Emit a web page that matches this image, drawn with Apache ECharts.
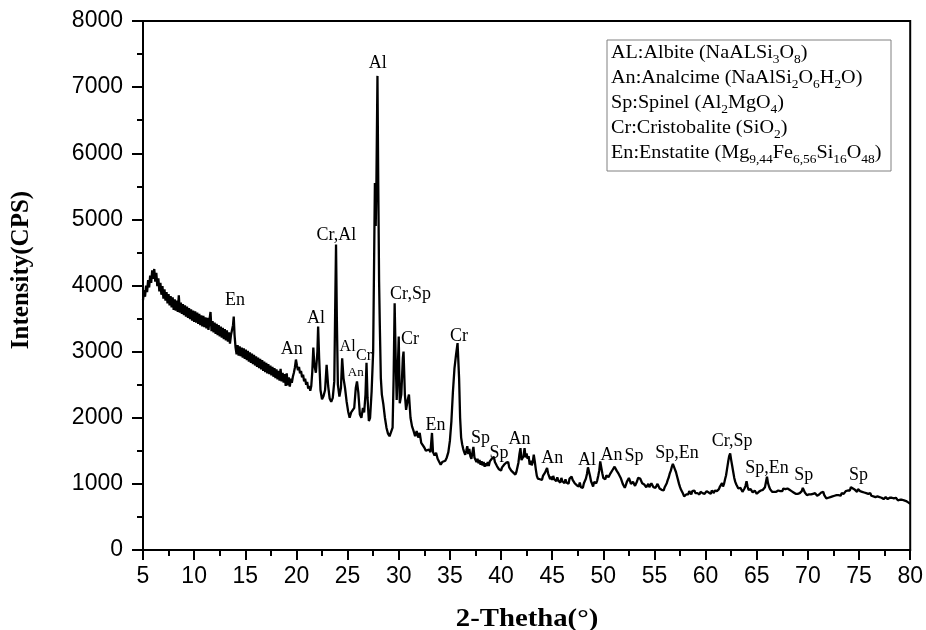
<!DOCTYPE html>
<html>
<head>
<meta charset="utf-8">
<title>XRD pattern</title>
<script src="https://cdn.jsdelivr.net/npm/echarts@6/dist/echarts.min.js"></script>
<style>
  html, body { margin: 0; padding: 0; background: #fff; }
  #chart { width: 926px; height: 630px; }
</style>
</head>
<body>
<div id="chart"></div>
<script>
// measured pattern: [2-theta (deg), intensity (CPS)]
const pattern = [
  [5.0,3780],[5.1,3930],[5.2,3830],[5.3,4000],[5.4,3900],[5.5,4080],[5.6,3970],[5.7,4150],[5.8,4040],[5.9,4230],
  [6.0,4100],[6.1,4250],[6.2,4060],[6.3,4190],[6.4,3990],[6.5,4110],[6.6,3910],[6.7,4040],[6.8,3860],[6.9,3990],
  [7.0,3800],[7.1,3940],[7.2,3770],[7.3,3900],[7.4,3730],[7.5,3870],[7.6,3700],[7.7,3840],[7.8,3670],[7.9,3820],
  [8.0,3630],[8.1,3790],[8.2,3620],[8.3,3770],[8.4,3600],[8.5,3850],[8.6,3590],[8.7,3740],[8.8,3570],[8.9,3720],
  [9.0,3550],[9.1,3700],[9.2,3530],[9.3,3680],[9.4,3510],[9.5,3660],[9.6,3490],[9.7,3640],[9.8,3470],[9.9,3620],
  [10.0,3450],[10.1,3610],[10.2,3440],[10.3,3590],[10.4,3420],[10.5,3570],[10.6,3400],[10.7,3550],[10.8,3380],[10.9,3540],
  [11.0,3370],[11.1,3520],[11.2,3350],[11.3,3510],[11.4,3330],[11.5,3480],[11.6,3600],[11.7,3310],[11.8,3460],[11.9,3290],
  [12.0,3440],[12.1,3270],[12.2,3420],[12.3,3250],[12.4,3400],[12.5,3230],[12.6,3380],[12.7,3210],[12.8,3360],[12.9,3190],
  [13.0,3340],[13.1,3170],[13.2,3320],[13.3,3150],[13.4,3290],[13.5,3120],[13.6,3250],[13.7,3230],[13.8,3400],[13.87,3530],
  [13.95,3250],[14.05,3060],[14.15,2960],[14.25,3100],[14.35,2940],[14.45,3080],[14.55,2930],[14.65,3060],[14.75,2910],[14.85,3050],
  [14.95,2890],[15.05,3030],[15.15,2870],[15.25,3010],[15.35,2850],[15.45,2990],[15.55,2830],[15.65,2970],[15.75,2810],[15.85,2950],
  [15.95,2790],[16.05,2930],[16.15,2770],[16.25,2910],[16.35,2750],[16.45,2890],[16.55,2730],[16.65,2870],[16.75,2710],[16.85,2850],
  [16.95,2690],[17.05,2830],[17.15,2670],[17.25,2810],[17.35,2660],[17.45,2790],[17.55,2640],[17.65,2770],[17.75,2620],[17.85,2750],
  [17.95,2600],[18.05,2730],[18.15,2580],[18.25,2710],[18.35,2560],[18.45,2740],[18.55,2550],[18.65,2680],[18.75,2530],[18.85,2660],
  [18.95,2480],[19.05,2670],[19.15,2490],[19.25,2610],[19.35,2470],[19.45,2590],[19.55,2530],[19.65,2620],[19.75,2680],[19.85,2760],
  [19.95,2880],[20.05,2790],[20.15,2720],[20.25,2770],[20.35,2670],[20.45,2710],[20.55,2610],[20.65,2650],[20.75,2550],[20.85,2590],
  [20.95,2500],[21.05,2540],[21.15,2440],[21.25,2480],[21.35,2410],[21.45,2480],[21.55,2700],[21.65,3060],[21.75,2800],[21.9,2680],
  [22.05,3000],[22.12,3380],[22.22,2900],[22.35,2420],[22.5,2280],[22.65,2330],[22.8,2420],[22.95,2800],[23.1,2480],[23.25,2290],
  [23.4,2240],[23.55,2300],[23.7,2550],[23.8,3800],[23.87,4620],[23.95,3500],[24.05,2500],[24.2,2320],[24.35,2450],[24.47,2900],
  [24.6,2600],[24.75,2450],[24.9,2250],[25.05,2100],[25.2,2000],[25.35,2080],[25.5,2050],[25.65,2150],[25.8,2450],[25.92,2550],
  [26.05,2380],[26.2,2050],[26.35,2000],[26.5,2150],[26.62,2080],[26.75,2350],[26.85,2830],[26.95,2300],[27.08,1950],[27.2,2000],
  [27.35,2400],[27.5,3000],[27.6,4500],[27.67,5550],[27.75,4900],[27.82,5600],[27.92,7170],[28.0,5500],[28.08,4060],[28.15,3400],
  [28.25,2600],[28.35,2350],[28.5,2200],[28.65,2000],[28.8,1850],[28.95,1760],[29.1,1720],[29.25,1690],[29.4,1850],[29.5,2600],
  [29.6,3730],[29.7,2900],[29.8,2270],[29.92,2800],[30.0,3230],[30.1,2220],[30.25,2350],[30.4,2900],[30.47,3000],[30.6,2350],
  [30.72,2120],[30.85,2250],[31.0,2350],[31.15,2000],[31.3,1870],[31.45,1800],[31.6,1720],[31.75,1800],[31.9,1700],[32.05,1770],
  [32.2,1620],[32.35,1600],[32.5,1550],[32.65,1500],[32.8,1470],[32.95,1520],[33.1,1480],[33.25,1770],[33.35,1480],[33.5,1430],
  [33.65,1470],[33.8,1380],[33.95,1350],[34.1,1290],[34.25,1330],[34.4,1300],[34.55,1350],[34.7,1400],[34.85,1480],[35.0,1650],
  [35.15,1950],[35.3,2400],[35.45,2750],[35.6,2950],[35.75,3130],[35.9,2600],[36.0,2000],[36.1,1700],[36.2,1600],[36.3,1530],
  [36.4,1480],[36.5,1440],[36.6,1500],[36.7,1570],[36.8,1450],[36.9,1530],[37.0,1420],[37.1,1380],[37.2,1470],[37.3,1560],
  [37.4,1400],[37.5,1390],[37.6,1330],[37.7,1380],[37.8,1310],[37.9,1360],[38.0,1290],[38.1,1340],[38.2,1280],[38.3,1330],
  [38.4,1260],[38.5,1310],[38.6,1270],[38.7,1330],[38.8,1270],[38.9,1340],[39.0,1310],[39.1,1380],[39.2,1360],[39.3,1410],
  [39.4,1330],[39.5,1350],[39.6,1270],[39.7,1280],[39.8,1220],[39.9,1250],[40.0,1200],[40.1,1250],[40.2,1220],[40.3,1290],
  [40.4,1260],[40.5,1320],[40.6,1290],[40.7,1330],[40.8,1250],[40.9,1270],[41.0,1200],[41.1,1230],[41.2,1170],[41.3,1190],
  [41.4,1140],[41.5,1180],[41.6,1210],[41.7,1320],[41.8,1450],[41.9,1540],[42.0,1360],[42.1,1330],[42.2,1420],[42.3,1540],
  [42.4,1400],[42.5,1460],[42.6,1380],[42.7,1420],[42.8,1290],[42.9,1350],[43.0,1280],[43.1,1330],[43.2,1440],[43.3,1340],
  [43.4,1220],[43.5,1120],[43.6,1080],[43.7,1110],[43.8,1070],[43.9,1100],[44.0,1060],[44.1,1120],[44.2,1090],[44.3,1170],
  [44.4,1150],[44.5,1240],[44.6,1160],[44.7,1130],[44.8,1070],[44.9,1110],[45.0,1060],[45.1,1120],[45.2,1070],[45.3,1090],
  [45.4,1040],[45.5,1100],[45.6,1050],[45.7,1070],[45.8,1020],[45.9,1090],[46.0,1040],[46.1,1060],[46.2,1010],[46.3,1070],
  [46.4,1020],[46.5,1050],[46.6,1000],[46.7,1080],[46.8,1060],[46.9,1110],[47.0,1060],[47.1,1070],[47.2,1010],[47.3,1040],
  [47.4,980],[47.5,1010],[47.6,960],[47.7,1020],[47.8,950],[47.9,980],[48.0,940],[48.1,1010],[48.2,990],[48.3,1080],
  [48.4,1150],[48.5,1250],[48.6,1230],[48.7,1120],[48.8,1040],[48.9,1000],[49.0,960],[49.1,1030],[49.2,1060],[49.3,1010],
  [49.4,1050],[49.5,1120],[49.6,1200],[49.7,1340],[49.8,1250],[49.9,1160],[50.0,1090],[50.1,1120],[50.2,1070],[50.3,1130],
  [50.4,1150],[50.5,1100],[50.6,1110],[50.7,1160],[50.8,1180],[50.9,1210],[51.0,1230],[51.1,1260],[51.2,1240],[51.3,1200],
  [51.4,1210],[51.5,1150],[51.6,1160],[51.7,1090],[51.8,1060],[51.9,1000],[52.0,970],[52.1,940],[52.2,980],[52.3,1030],
  [52.4,1060],[52.5,1090],[52.6,1050],[52.7,1000],[52.8,980],[52.9,1030],[53.0,1010],[53.1,970],[53.2,950],[53.3,1040],
  [53.4,1090],[53.5,1120],[53.6,1080],[53.7,1050],[53.8,1010],[53.9,1040],[54.0,990],[54.1,1010],[54.2,950],[54.3,980],
  [54.4,1000],[54.5,950],[54.6,960],[54.7,1010],[54.8,990],[54.9,950],[55.0,980],[55.1,940],[55.2,960],[55.3,1000],
  [55.4,970],[55.5,930],[55.6,950],[55.7,910],[55.8,930],[55.9,900],[56.0,950],[56.1,980],[56.2,1010],[56.3,1060],
  [56.4,1100],[56.5,1160],[56.6,1200],[56.7,1260],[56.8,1300],[56.9,1260],[57.0,1220],[57.1,1180],[57.2,1120],[57.3,1060],
  [57.4,1000],[57.5,950],[57.6,910],[57.7,880],[57.8,850],[57.9,810],[58.0,790],[58.1,840],[58.2,870],[58.3,840],
  [58.4,890],[58.5,860],[58.6,840],[58.7,890],[58.8,870],[58.9,900],[59.0,860],[59.1,890],[59.2,860],[59.3,880],
  [59.4,840],[59.5,880],[59.6,900],[59.7,860],[59.8,880],[59.9,850],[60.0,870],[60.1,890],[60.2,920],[60.3,870],
  [60.4,880],[60.5,850],[60.6,900],[60.7,880],[60.8,860],[60.9,900],[61.0,930],[61.1,890],[61.2,880],[61.3,920],
  [61.4,960],[61.5,940],[61.6,1010],[61.7,960],[61.8,1000],[61.9,1070],[62.0,1130],[62.1,1230],[62.2,1330],[62.3,1420],
  [62.4,1460],[62.5,1360],[62.6,1270],[62.7,1180],[62.8,1090],[62.9,1030],[63.0,990],[63.1,960],[63.2,930],[63.3,900],
  [63.4,940],[63.5,920],[63.6,880],[63.7,900],[63.8,930],[63.9,970],[64.0,1040],[64.1,960],[64.2,910],[64.3,880],
  [64.4,920],[64.5,890],[64.6,870],[64.7,860],[64.8,900],[64.9,870],[65.0,850],[65.1,870],[65.2,880],[65.3,860],
  [65.4,900],[65.5,880],[65.6,910],[65.7,890],[65.8,950],[65.9,1030],[66.0,1110],[66.1,1010],[66.2,960],[66.3,920],
  [66.4,890],[66.5,880],[66.6,900],[66.7,880],[66.8,860],[66.9,880],[67.0,860],[67.1,900],[67.2,880],[67.3,890],
  [67.4,910],[67.5,890],[67.6,930],[67.7,940],[67.8,920],[67.9,950],[68.0,930],[68.1,950],[68.2,910],[68.3,930],
  [68.4,890],[68.5,910],[68.6,870],[68.7,880],[68.8,850],[68.9,870],[69.0,850],[69.1,880],[69.2,860],[69.3,870],
  [69.4,890],[69.5,940],[69.6,930],[69.7,870],[69.8,850],[69.9,830],[70.0,860],[70.1,840],[70.2,820],[70.3,840],
  [70.4,820],[70.5,850],[70.6,830],[70.7,860],[70.8,840],[70.9,820],[71.0,850],[71.1,840],[71.2,860],[71.3,870],
  [71.4,900],[71.5,880],[71.6,830],[71.7,800],[71.8,780],[71.9,810],[72.0,790],[72.1,770],[72.2,800],[72.3,780],
  [72.4,810],[72.5,790],[72.6,820],[72.7,800],[72.8,830],[72.9,850],[73.0,830],[73.1,850],[73.2,820],[73.3,860],
  [73.4,870],[73.5,850],[73.6,880],[73.7,890],[73.8,870],[73.9,900],[74.0,920],[74.1,900],[74.2,950],[74.3,960],
  [74.4,930],[74.5,950],[74.6,910],[74.7,900],[74.8,880],[74.9,920],[75.0,930],[75.1,890],[75.2,870],[75.3,880],
  [75.4,850],[75.5,870],[75.6,840],[75.7,860],[75.8,830],[75.9,850],[76.0,840],[76.1,860],[76.2,820],[76.3,840],
  [76.4,810],[76.5,830],[76.6,800],[76.7,820],[76.8,810],[76.9,790],[77.0,800],[77.1,820],[77.2,790],[77.3,810],
  [77.4,770],[77.5,790],[77.6,800],[77.7,780],[77.8,770],[77.9,800],[78.0,790],[78.1,770],[78.2,790],[78.3,760],
  [78.4,780],[78.5,770],[78.6,790],[78.7,760],[78.8,750],[78.9,770],[79.0,760],[79.1,740],[79.2,760],[79.3,740],
  [79.4,750],[79.5,720],[79.6,740],[79.7,730],[79.8,720],[79.9,710],[80.0,700]
];

// phase labels: [2-theta, intensity, text]
const phaseLabels = [
  [14.0,3780,'En'],[19.55,3040,'An'],[21.9,3500,'Al'],[23.9,4760,'Cr,Al'],[27.95,7360,'Al'],
  [31.15,3870,'Cr,Sp'],[31.1,3180,'Cr'],[33.6,1890,'En'],[35.9,3230,'Cr'],[38.0,1690,'Sp'],
  [39.8,1460,'Sp'],[41.8,1680,'An'],[45.0,1390,'An'],[48.4,1360,'Al'],[50.8,1440,'An'],
  [53.0,1410,'Sp'],[57.2,1460,'Sp,En'],[62.6,1640,'Cr,Sp'],[66.0,1235,'Sp,En'],[69.6,1135,'Sp'],
  [74.95,1135,'Sp']
];
const midLabels = [[25.0,3066,'Al'],[26.6,2934,'Cr']];
const smallLabels = [[25.8,2680,'An']];

const legendLines = [
  'AL:Albite (NaALSi{s|3}O{s|8})',
  'An:Analcime (NaAlSi{s|2}O{s|6}H{s|2}O)',
  'Sp:Spinel (Al{s|2}MgO{s|4})',
  'Cr:Cristobalite (SiO{s|2})',
  'En:Enstatite (Mg{s|9,44}Fe{s|6,56}Si{s|16}O{s|48})'
];

const serif = '"Liberation Serif", "Times New Roman", serif';
const sans = '"Liberation Sans", Arial, sans-serif';

function labelSeries(list, size) {
  return {
    type: 'scatter',
    symbolSize: 0,
    silent: true,
    z: 5,
    itemStyle: { opacity: 1 },
    data: list.map(d => ({ value: [d[0], d[1]], name: d[2] })),
    label: {
      show: true,
      position: 'inside',
      formatter: '{b}',
      color: '#000',
      opacity: 1,
      textBorderWidth: 0,
      fontFamily: serif,
      fontSize: size
    }
  }
}

const chart = echarts.init(document.getElementById('chart'), null, { renderer: 'canvas' })

const legendText = legendLines.map((t, i) => ({
  type: 'text',
  x: 611,
  y: 41 + i * 25,
  scaleX: 1.12,
  z: 11,
  style: {
    text: t,
    font: '18px ' + serif,
    fill: '#000',
    lineHeight: 25,
    rich: {
      s: { fontSize: 12, fontFamily: serif, lineHeight: 15, verticalAlign: 'bottom', fill: '#000' }
    }
  }
}))

chart.setOption({
  animation: false,
  backgroundColor: '#fff',
  grid: {
    left: 143, right: 14, top: 21, bottom: 80,
    show: true, borderColor: '#000', borderWidth: 2
  },
  xAxis: {
    type: 'value',
    min: 5, max: 80, interval: 5,
    axisLine: { lineStyle: { color: '#000', width: 2 } },
    axisTick: { length: 10, lineStyle: { color: '#000', width: 2 } },
    minorTick: { show: true, splitNumber: 2, length: 6, lineStyle: { color: '#000', width: 2 } },
    splitLine: { show: false },
    axisLabel: { color: '#000', fontFamily: sans, fontSize: 23, margin: 15 }
  },
  yAxis: {
    type: 'value',
    min: 0, max: 8000, interval: 1000,
    axisLine: { show: true, lineStyle: { color: '#000', width: 2 } },
    axisTick: { show: true, length: 11, lineStyle: { color: '#000', width: 2 } },
    minorTick: { show: true, splitNumber: 2, length: 6, lineStyle: { color: '#000', width: 2 } },
    splitLine: { show: false },
    axisLabel: {
      color: '#000', fontFamily: sans, fontSize: 23, margin: 20,
      formatter: v => String(v)
    }
  },
  graphic: [
    {
      type: 'text',
      x: 527, y: 620,
      scaleX: 1.15,
      style: {
        text: '2-Thetha(°)', font: 'bold 25px ' + serif, fill: '#000',
        textAlign: 'center', textVerticalAlign: 'middle'
      }
    },
    {
      type: 'text',
      x: 22, y: 270,
      rotation: Math.PI / 2,
      style: {
        text: 'Intensity(CPS)', font: 'bold 25px ' + serif, fill: '#000',
        textAlign: 'center', textVerticalAlign: 'middle'
      }
    },
    {
      type: 'rect',
      shape: { x: 607, y: 40, width: 284, height: 131 },
      style: { fill: '#fff', stroke: '#808080', lineWidth: 1 },
      z: 10
    }
  ].concat(legendText),
  series: [
    {
      type: 'line',
      data: pattern,
      showSymbol: false,
      symbol: 'none',
      silent: true,
      lineStyle: { color: '#000', width: 2.3 },
      z: 3
    },
    labelSeries(phaseLabels, 18),
    labelSeries(midLabels, 16),
    labelSeries(smallLabels, 13)
  ]
})
</script>
</body>
</html>
